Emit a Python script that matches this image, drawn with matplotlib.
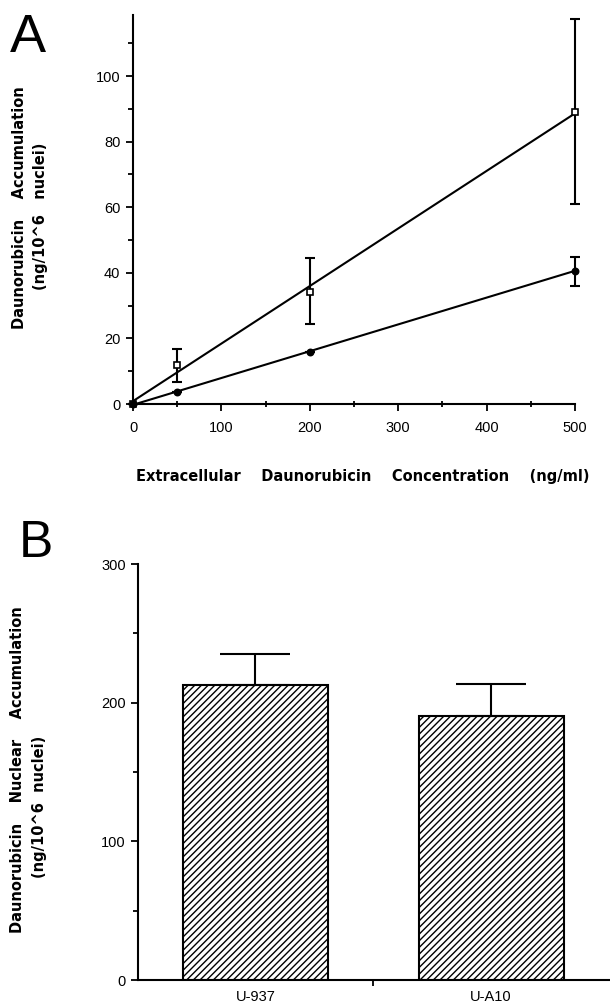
import numpy as np
import matplotlib
matplotlib.use('Agg')
import matplotlib.pyplot as plt
from matplotlib.ticker import MultipleLocator

# panel A data
conc = [0, 50, 200, 500]
sq_y = [0, 11.8, 34.2, 89.1]
sq_lo = [0, 6.8, 24.4, 60.9]
sq_hi = [0, 16.7, 44.4, 117.5]
dot_y = [0, 3.7, 15.9, 40.7]
dot_lo = [0, 3.7, 15.9, 35.9]
dot_hi = [0, 3.7, 15.9, 44.7]

# panel B data
cells = ['U-937', 'U-A10']
nuc = [212.5, 190.3]
nuc_err = [22.5, 23.2]

plt.rcParams['hatch.linewidth'] = 1.0

W, H = 610, 1006
fig = plt.figure(figsize=(W / 100, H / 100), dpi=100)

tickfont = dict(family='Liberation Sans', size=10.5)
labfont = dict(family='DejaVu Sans', weight='bold', size=10.5)

# ---------------- panel A ----------------
axA = fig.add_axes([133 / W, 1 - 404 / H, 442 / W, 389 / H])
axA.set_xlim(0, 500)
axA.set_ylim(0, 118.6)

for y, lo, hi, mk, fc in [(sq_y, sq_lo, sq_hi, 's', 'white'),
                          (dot_y, dot_lo, dot_hi, 'o', 'black')]:
    y = np.array(y)
    yerr = [y - np.array(lo), np.array(hi) - y]
    axA.errorbar(conc, y, yerr=yerr, fmt='none', ecolor='black',
                 elinewidth=1.5, capsize=3.5, capthick=1.5, clip_on=False, zorder=3)
    k, b = np.polyfit(conc, y, 1)
    xs = np.array([0, 500])
    axA.plot(xs, k * xs + b, color='black', lw=1.5, zorder=2)
    axA.plot(conc, y, linestyle='none', marker=mk, ms=4.5, mfc=fc, mec='black',
             mew=1.2, clip_on=False, zorder=4)

axA.xaxis.set_major_locator(MultipleLocator(100))
axA.xaxis.set_minor_locator(MultipleLocator(50))
axA.yaxis.set_major_locator(MultipleLocator(20))
axA.yaxis.set_minor_locator(MultipleLocator(10))

# ---------------- panel B ----------------
axB = fig.add_axes([137.5 / W, 1 - 980 / H, 471.5 / W, 416 / H])
xb = np.arange(len(cells))
axB.bar(xb, nuc, width=0.616, color='white', edgecolor='black', linewidth=1.5,
        hatch='/////', zorder=2)
axB.errorbar(xb, nuc, yerr=[np.zeros(len(nuc)), nuc_err], fmt='none', ecolor='black',
             elinewidth=1.5, capsize=25, capthick=1.5, zorder=3)
axB.set_xlim(-0.5, 1.5)
axB.set_ylim(0, 300)
axB.set_xticks(xb)
axB.set_xticklabels(cells)
axB.set_xticks([0.5], minor=True)
axB.yaxis.set_major_locator(MultipleLocator(100))
axB.yaxis.set_minor_locator(MultipleLocator(50))

for ax in (axA, axB):
    for s in ('top', 'right'):
        ax.spines[s].set_visible(False)
    for s in ('left', 'bottom'):
        ax.spines[s].set_linewidth(1.5)
    ax.tick_params(which='major', direction='out', length=5, width=1.3, color='black')
    ax.tick_params(which='minor', direction='out', length=3.5, width=1.3, color='black')
    for lab in ax.get_xticklabels() + ax.get_yticklabels():
        lab.set_fontfamily(tickfont['family'])
        lab.set_fontsize(tickfont['size'])
axA.tick_params(axis='x', which='minor', direction='inout', length=4)
axA.tick_params(axis='x', which='major', pad=7)
axA.tick_params(axis='y', which='major', pad=4)
axB.tick_params(axis='x', which='minor', length=4)
axB.tick_params(axis='x', which='major', length=0, pad=7)

# ---------------- labels ----------------
fig.text(10 / W, 1 - 52 / H, 'A', fontsize=39, family='Liberation Sans',
         ha='left', va='baseline')
fig.text(19 / W, 1 - 557 / H, 'B', fontsize=37, family='Liberation Sans',
         ha='left', va='baseline')

fig.text(19.5 / W, 1 - 208 / H, 'Daunorubicin    Accumulation', rotation=90,
         ha='center', va='center', **labfont)
fig.text(41 / W, 1 - 216 / H, '(ng/10^6   nuclei)', rotation=90,
         ha='center', va='center', **labfont)
fig.text(363 / W, 1 - 476 / H,
         'Extracellular    Daunorubicin    Concentration    (ng/ml)',
         ha='center', va='center', **labfont)
fig.text(17.5 / W, 1 - 770 / H, 'Daunorubicin    Nuclear    Accumulation', rotation=90,
         ha='center', va='center', **labfont)
fig.text(40 / W, 1 - 807 / H, '(ng/10^6  nuclei)', rotation=90,
         ha='center', va='center', **labfont)

fig.savefig('out.png', dpi=100)
